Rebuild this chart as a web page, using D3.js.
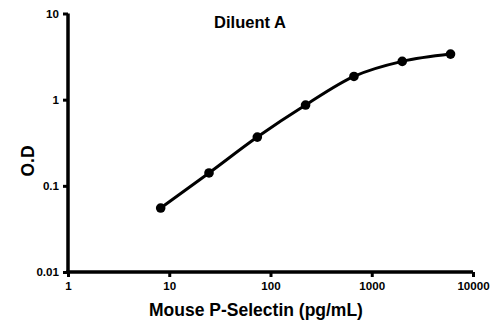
<!DOCTYPE html>
<html><head><meta charset="utf-8">
<script src="https://cdn.jsdelivr.net/npm/d3@7"></script>
<style>
html,body{margin:0;padding:0;background:#fff;}
svg{display:block;font-family:"Liberation Sans",Arial,sans-serif;}
.axis .tick line{stroke:#000;stroke-width:3px;}
.axis .tick text{fill:#000;font-size:11.6px;font-weight:bold;font-family:"Liberation Sans",Arial,sans-serif;}
</style></head>
<body>
<svg id="chart" width="500" height="322"></svg>
<script>
const concentrations = [8.23, 24.7, 74.1, 222, 667, 2000, 6000];
const odValues = [0.0552, 0.141, 0.368, 0.866, 1.86, 2.78, 3.38];
const xTicks = [1, 10, 100, 1000, 10000];
const yTicks = [0.01, 0.1, 1, 10];
const title = "Diluent A";
const xTitle = "Mouse P-Selectin (pg/mL)";
const yTitle = "O.D";

const svg = d3.select("#chart");
const x = d3.scaleLog().domain([1, 10000]).range([68, 473]);
const y = d3.scaleLog().domain([0.01, 10]).range([272, 13.5]);

const xAxis = svg.append("g").attr("class", "axis").attr("transform", "translate(0,272)")
  .call(d3.axisBottom(x).tickValues(xTicks).tickFormat(d => String(d)).tickSizeInner(5).tickSizeOuter(0).tickPadding(5));
const yAxis = svg.append("g").attr("class", "axis").attr("transform", "translate(68,0)")
  .call(d3.axisLeft(y).tickValues(yTicks).tickFormat(d => String(d)).tickSizeInner(5).tickSizeOuter(0).tickPadding(4));
xAxis.select(".domain").remove();
yAxis.select(".domain").remove();
// axis lines
svg.append("line").attr("x1", x(1) - 1.75).attr("x2", x(10000)).attr("y1", y(0.01)).attr("y2", y(0.01))
  .style("stroke", "#000").style("stroke-width", "3.5px");
svg.append("line").attr("x1", x(1)).attr("x2", x(1)).attr("y1", y(0.01) + 1.75).attr("y2", y(10))
  .style("stroke", "#000").style("stroke-width", "3.5px");

const pts = concentrations.map((c, i) => [c, odValues[i]]);
const line = d3.line().x(d => x(d[0])).y(d => y(d[1])).curve(d3.curveMonotoneX);
svg.append("path").datum(pts).attr("d", line).attr("fill", "none").attr("stroke", "#000").attr("stroke-width", 3);
svg.selectAll("circle.pt").data(pts).enter().append("circle").attr("class", "pt")
  .attr("cx", d => x(d[0])).attr("cy", d => y(d[1])).attr("r", 4.8).attr("fill", "#000");

svg.append("text").attr("x", 250).attr("y", 28).attr("text-anchor", "middle")
  .style("font-size", "16.5px").style("font-weight", "bold").text(title);
svg.append("text").attr("x", 256).attr("y", 316).attr("text-anchor", "middle")
  .style("font-size", "17.5px").style("font-weight", "bold").text(xTitle);
svg.append("text").attr("transform", "translate(33.5,161) rotate(-90)").attr("text-anchor", "middle")
  .style("font-size", "17.5px").style("font-weight", "bold").text(yTitle);
</script>
</body></html>
